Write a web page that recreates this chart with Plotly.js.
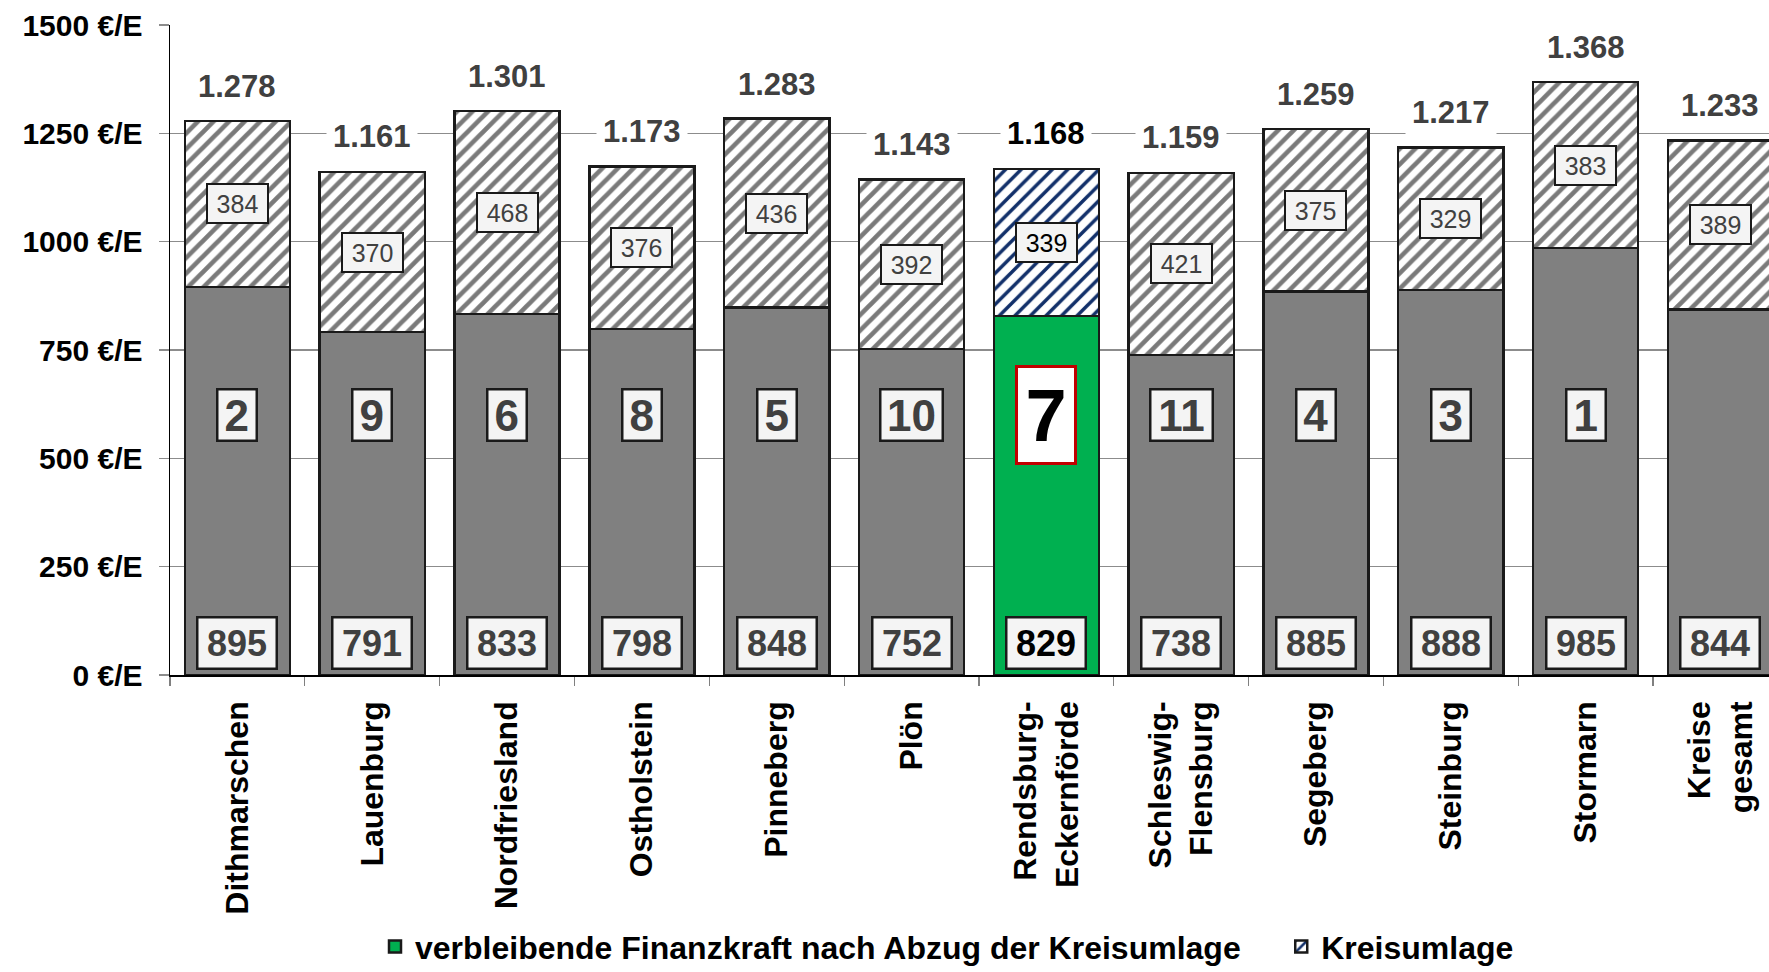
<!DOCTYPE html>
<html>
<head>
<meta charset="utf-8">
<script src="https://cdn.plot.ly/plotly-3.0.1.min.js"></script>
<style>html,body{margin:0;padding:0;background:#fff;}#chart{width:1769px;height:972px;}</style>
</head>
<body>
<div id="chart"></div>
<script>
// ---- data ----
const categories = ['Dithmarschen','Lauenburg','Nordfriesland','Ostholstein','Pinneberg','Plön','Rendsburg-<br>Eckernförde','Schleswig-<br>Flensburg','Segeberg','Steinburg','Stormarn','Kreise<br>gesamt'];
const finanzkraft = [895,791,833,798,848,752,829,738,885,888,985,844];
const kreisumlage = [384,370,468,376,436,392,339,421,375,329,383,389];
const totals = [1278,1161,1301,1173,1283,1143,1168,1159,1259,1217,1368,1233];
const ranks = ['2','9','6','8','5','10','7','11','4','3','1',''];
const yTickVals = [0,250,500,750,1000,1250,1500];
const yTickText = ['0 €/E','250 €/E','500 €/E','750 €/E','1000 €/E','1250 €/E','1500 €/E'];
const highlight = 'Rendsburg-<br>Eckernförde';
const legendNames = ['verbleibende Finanzkraft nach Abzug der Kreisumlage','Kreisumlage'];

const FONT = '"Liberation Sans", Arial, sans-serif';
const idxOther = categories.map((c,i)=>i).filter(i=>categories[i]!==highlight);
const idxHi = categories.indexOf(highlight);
const pick = (arr, idx) => idx.map(i=>arr[i]);
const edge = {color:'#1a1a1a', width:2.5};
const gapAfter = '\u00a0\u00a0\u00a0\u00a0';

const traces = [
  {type:'bar', x:pick(categories,idxOther), y:pick(finanzkraft,idxOther), showlegend:false,
   marker:{color:'#808080', line:edge}, hoverinfo:'skip'},
  {type:'bar', x:[categories[idxHi]], y:[finanzkraft[idxHi]], name:legendNames[0] + gapAfter,
   marker:{color:'#00b050', line:edge}, hoverinfo:'skip'},
  {type:'bar', x:pick(categories,idxOther), y:pick(kreisumlage,idxOther), showlegend:false,
   marker:{color:'#ffffff', line:edge, pattern:{shape:'/', fgcolor:'#7a7a7a', bgcolor:'#ffffff', size:11, solidity:0.42}}, hoverinfo:'skip'},
  {type:'bar', x:[categories[idxHi]], y:[kreisumlage[idxHi]], name:legendNames[1],
   marker:{color:'#ffffff', line:edge, pattern:{shape:'/', fgcolor:'#12306a', bgcolor:'#ffffff', size:11, solidity:0.32}}, hoverinfo:'skip'}
];

function fmt(v){ const t = Math.floor(v/1000); const r = String(v%1000).padStart(3,'0'); return t + '.' + r; }

const annotations = [];
categories.forEach((c,i)=>{
  const hi = c===highlight;
  annotations.push({x:c, y:totals[i], xref:'x', yref:'y', text:fmt(totals[i]), showarrow:false,
    yanchor:'middle', yshift:35, bgcolor:'#ffffff', borderpad:6,
    font:{family:FONT, size:31, weight:'bold', color: hi ? '#000000' : '#404040'}});
  annotations.push({x:c, y:finanzkraft[i]+kreisumlage[i]/2, xref:'x', yref:'y', text:String(kreisumlage[i]), showarrow:false,
    bgcolor:'#f4f4f4', bordercolor:'#1a1a1a', borderwidth:2, borderpad:2, width:55, height:33,
    font:{family:FONT, size:25, color: hi ? '#000000' : '#404040'}});
  annotations.push({x:c, y:75, xref:'x', yref:'y', text:String(finanzkraft[i]), showarrow:false,
    bgcolor:'#f4f4f4', bordercolor:'#1a1a1a', borderwidth:2.5, borderpad:2, width:73, height:45,
    font:{family:FONT, size:36, weight:'bold', color: hi ? '#000000' : '#404040'}});
  if (ranks[i]) {
    if (hi) {
      annotations.push({x:c, y:600, xref:'x', yref:'y', text:ranks[i], showarrow:false,
        bgcolor:'#ffffff', bordercolor:'#c00000', borderwidth:3, borderpad:2, width:52, height:90,
        font:{family:FONT, size:74, weight:'bold', color:'#000000'}});
    } else {
      annotations.push({x:c, y:600, xref:'x', yref:'y', text:ranks[i], showarrow:false,
        bgcolor:'#f4f4f4', bordercolor:'#1a1a1a', borderwidth:2.5, borderpad:2, width:9+23.5*ranks[i].length, height:45,
        font:{family:FONT, size:44, weight:'bold', color:'#404040'}});
    }
  }
});

const layout = {
  width:1769, height:972,
  margin:{l:170, r:0, t:25, b:297, pad:0},
  paper_bgcolor:'#ffffff', plot_bgcolor:'#ffffff',
  barmode:'stack', bargap:0.22,
  font:{family:FONT},
  xaxis:{type:'category', range:[-0.5, 11.36], categoryorder:'array', categoryarray:categories,
    showline:true, linecolor:'#000000', linewidth:1.5, showgrid:false, zeroline:false,
    ticks:'outside', tickson:'boundaries', ticklen:9, tickcolor:'#808080', tickwidth:1.2,
    tickangle:-90, ticklabelstandoff:12, automargin:false,
    tickfont:{family:FONT, size:32, weight:'bold', color:'#000000'}},
  yaxis:{range:[0,1500], tickvals:yTickVals, ticktext:yTickText,
    showline:true, linecolor:'#000000', linewidth:1.5, showgrid:true, gridcolor:'#8c8c8c', gridwidth:1.2,
    zeroline:false, ticks:'outside', ticklen:10, tickcolor:'#8c8c8c', tickwidth:1.2,
    ticklabelstandoff:10, automargin:false,
    tickfont:{family:FONT, size:30, weight:'bold', color:'#000000'}},
  showlegend:true,
  legend:{orientation:'h', xref:'container', yref:'container', x:375/1769, xanchor:'left', y:0.026, yanchor:'middle',
    itemwidth:30,
    font:{family:FONT, size:32, weight:'bold', color:'#000000'}, bgcolor:'rgba(0,0,0,0)', traceorder:'normal'},
  annotations:annotations
};

Plotly.newPlot('chart', traces, layout, {staticPlot:true, displayModeBar:false});
</script>
</body>
</html>
